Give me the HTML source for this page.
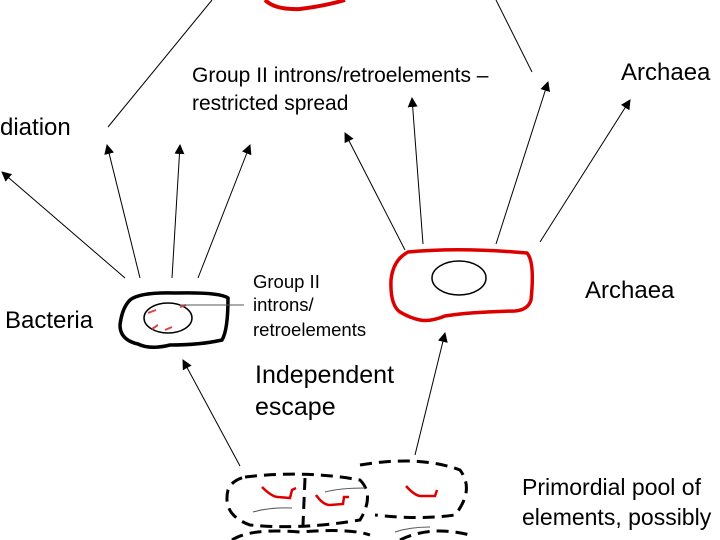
<!DOCTYPE html>
<html><head><style>
body{margin:0;width:720px;height:540px;overflow:hidden;background:#fff;}
svg{display:block}
text{font-family:"Liberation Sans",sans-serif;fill:#000}
</style></head><body>
<svg width="720" height="540" viewBox="0 0 720 540">
<defs><marker id="a" markerWidth="10" markerHeight="10" refX="9" refY="5" orient="auto" markerUnits="userSpaceOnUse"><path d="M0,0 L10,5 L0,10 z" fill="#000"/></marker></defs>
<g stroke="#000" stroke-width="1" fill="none">
<path d="M265,0 Q275,10 300,9 Q325,6 345,0" stroke="#d00" stroke-width="4"/>
<line x1="212" y1="0" x2="108" y2="127"/>
<line x1="496" y1="0" x2="532" y2="72"/>
<line x1="125" y1="278" x2="2" y2="172" marker-end="url(#a)"/>
<line x1="140" y1="278" x2="107" y2="145" marker-end="url(#a)"/>
<line x1="172" y1="278" x2="180" y2="145" marker-end="url(#a)"/>
<line x1="198" y1="278" x2="250" y2="145" marker-end="url(#a)"/>
<line x1="405" y1="250" x2="345" y2="133" marker-end="url(#a)"/>
<line x1="423" y1="244" x2="412" y2="98" marker-end="url(#a)"/>
<line x1="496" y1="244" x2="548" y2="82" marker-end="url(#a)"/>
<line x1="540" y1="242" x2="630" y2="100" marker-end="url(#a)"/>
<line x1="240" y1="466" x2="183" y2="360" marker-end="url(#a)"/>
<line x1="415" y1="455" x2="445" y2="333" marker-end="url(#a)"/>
</g>
<path d="M130,300 Q140,292 175,293 Q220,292 228,298 Q228,330 222,340 Q200,345 170,345 Q150,350 138,344 Q120,340 120,325 Q122,308 130,300 Z" fill="none" stroke="#000" stroke-width="3.5"/>
<ellipse cx="168" cy="318" rx="24" ry="15" fill="none" stroke="#000" stroke-width="1.5"/>
<g stroke="#d44" stroke-width="2"><line x1="148" y1="313" x2="156" y2="310"/><line x1="152" y1="329" x2="158" y2="325"/><line x1="165" y1="330" x2="172" y2="327"/><line x1="180" y1="307" x2="186" y2="305"/></g>
<line x1="180" y1="305" x2="244" y2="305" stroke="#555" stroke-width="1"/>
<path d="M408,252 Q460,247 527,253 Q535,262 531,300 Q528,310 515,311 Q470,312 445,316 Q430,322 420,320 Q410,318 400,312 Q390,305 391,280 Q393,260 408,252 Z" fill="none" stroke="#d00" stroke-width="3.5"/>
<ellipse cx="459" cy="278" rx="27" ry="17" fill="none" stroke="#000" stroke-width="1.5"/>
<g fill="none" stroke="#000" stroke-width="3" stroke-dasharray="12,7">
<path d="M245,477 Q305,470 360,480 Q375,495 360,520 Q300,530 250,525 Q222,515 228,490 Q232,480 245,477"/>
<line x1="305" y1="478" x2="303" y2="525"/>
<path d="M360,465 Q420,455 460,470 Q475,490 455,515 Q420,520 375,515"/>
<path d="M232,540 Q250,528 300,532 Q350,528 370,535"/>
<path d="M400,540 Q430,525 470,535"/>
</g>
<g fill="none" stroke="#d00" stroke-width="2.5">
<path d="M262,487 Q272,497 278,497 L290,498 L292,490 L296,488"/>
<path d="M316,495 Q323,505 330,505 L343,504 L344,497 L349,497"/>
<path d="M406,486 Q414,495 420,496 L435,496 L437,490"/>
</g>
<g fill="none" stroke="#555" stroke-width="1"><path d="M253,512 Q270,507 292,508"/><path d="M325,492 Q340,488 365,488"/><path d="M395,532 Q410,527 430,527"/></g>
<text x="0" y="135" font-size="24">diation</text>
<text x="192" y="82" font-size="21">Group II introns/retroelements –</text>
<text x="192" y="110" font-size="21">restricted spread</text>
<text x="621" y="80" font-size="24">Archaea</text>
<text x="585" y="298" font-size="24">Archaea</text>
<text x="5" y="328" font-size="24">Bacteria</text>
<text x="253" y="288" font-size="18.5">Group II</text>
<text x="253" y="311" font-size="18.5">introns/</text>
<text x="253" y="336" font-size="18.5">retroelements</text>
<text x="255" y="383" font-size="25">Independent</text>
<text x="255" y="415" font-size="25">escape</text>
<text x="522" y="495" font-size="23">Primordial pool of</text>
<text x="522" y="525" font-size="23">elements, possibly</text>
</svg>
</body></html>
